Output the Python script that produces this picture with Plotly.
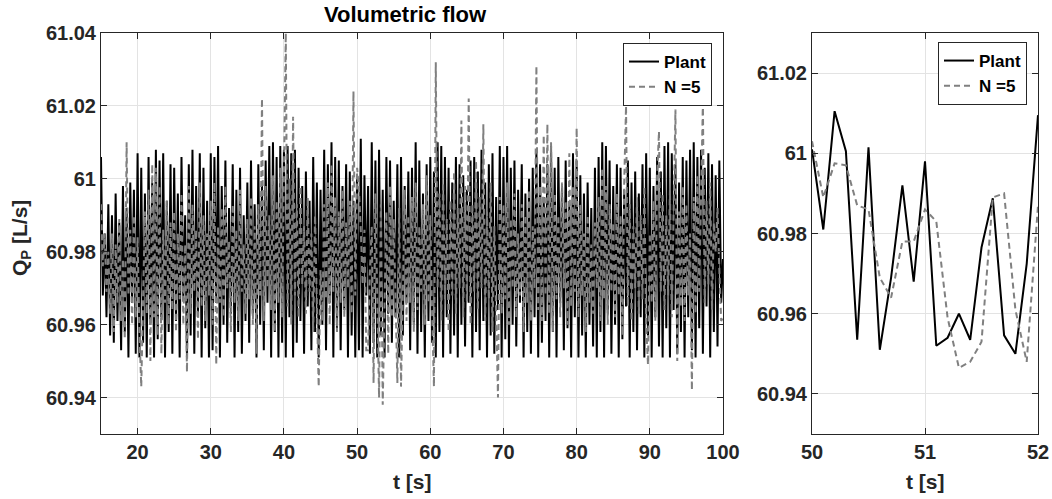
import plotly.graph_objects as go

# ---------------- data ----------------
# Overview panel: sampled every 0.25 s from t = 15 s to t = 100 s
overview_t0 = 15.0
overview_dt = 0.25

plant = [
    61.006, 60.968, 60.985, 60.962, 60.993, 60.957, 60.990, 60.955, 60.996, 60.961, 60.988, 60.953, 60.998, 60.958, 60.992, 60.951, 60.999, 60.966, 60.997, 60.952,
    61.007, 60.951, 61.003, 60.955, 60.996, 60.951, 61.006, 60.960, 60.999, 60.951, 61.008, 60.956, 61.005, 60.962, 61.007, 60.951, 60.994, 60.958, 61.004, 60.952,
    61.003, 60.961, 60.996, 60.951, 61.006, 60.967, 60.990, 60.951, 61.004, 60.957, 61.008, 60.952, 60.998, 60.962, 61.007, 60.951, 61.003, 60.959, 60.994, 60.951,
    61.007, 60.953, 61.006, 60.966, 61.009, 60.951, 60.998, 60.960, 61.005, 60.955, 60.992, 60.963, 61.004, 60.951, 60.997, 60.958, 61.003, 60.952, 60.990, 60.961,
    60.999, 60.955, 61.005, 60.963, 60.993, 60.951, 61.004, 60.960, 60.998, 60.953, 61.005, 60.966, 61.009, 60.951, 61.010, 60.958, 61.006, 60.951, 61.009, 60.955,
    61.008, 60.951, 61.009, 60.962, 61.007, 60.951, 61.008, 60.955, 61.003, 60.961, 60.998, 60.952, 61.002, 60.965, 60.994, 60.953, 61.006, 60.958, 60.999, 60.951,
    60.997, 60.960, 61.008, 60.953, 61.004, 60.966, 61.010, 60.951, 61.006, 60.959, 61.005, 60.953, 60.998, 60.964, 61.004, 60.951, 61.002, 60.957, 60.994, 60.951,
    61.001, 60.953, 61.011, 60.951, 61.001, 60.968, 60.998, 60.952, 61.010, 60.955, 61.005, 60.951, 61.008, 60.957, 60.997, 60.951, 61.006, 60.963, 61.005, 60.955,
    60.994, 60.962, 61.004, 60.951, 61.006, 60.957, 60.998, 60.966, 61.002, 60.953, 61.003, 60.960, 61.010, 60.952, 61.005, 60.958, 60.996, 60.951, 61.004, 60.961,
    61.006, 60.955, 61.002, 60.951, 61.010, 60.958, 61.009, 60.951, 61.006, 60.962, 61.003, 60.952, 60.999, 60.957, 61.006, 60.951, 61.004, 60.960, 61.001, 60.954,
    60.997, 60.966, 61.005, 60.951, 61.006, 60.958, 61.002, 60.953, 61.008, 60.961, 60.999, 60.951, 61.004, 60.957, 61.007, 60.952, 60.995, 60.964, 61.009, 60.951,
    61.006, 60.956, 61.009, 60.951, 61.003, 60.960, 61.005, 60.954, 60.997, 60.966, 61.004, 60.951, 60.996, 60.958, 61.000, 60.952, 61.003, 60.962, 61.008, 60.951,
    61.004, 60.955, 60.995, 60.961, 61.004, 60.951, 61.009, 60.958, 61.003, 60.951, 61.006, 60.966, 60.998, 60.953, 61.005, 60.959, 60.993, 60.951, 61.007, 60.962,
    61.005, 60.951, 61.001, 60.957, 60.996, 60.951, 60.999, 60.960, 60.992, 60.954, 61.003, 60.951, 61.006, 60.958, 61.010, 60.951, 61.009, 60.963, 61.005, 60.952,
    60.998, 60.960, 61.004, 60.951, 61.003, 60.956, 60.997, 60.965, 61.005, 60.951, 60.999, 60.958, 61.002, 60.953, 60.996, 60.962, 61.004, 60.951, 61.007, 60.957,
    61.003, 60.951, 60.998, 60.962, 61.006, 60.954, 61.002, 60.951, 61.009, 60.959, 61.010, 60.951, 61.007, 60.964, 61.004, 60.952, 60.999, 60.958, 61.006, 60.951,
    61.005, 60.962, 61.008, 60.953, 61.010, 60.951, 61.006, 60.959, 61.008, 60.952, 61.003, 60.965, 61.007, 60.951, 61.004, 60.958, 61.001, 60.954, 61.005, 60.966,
    60.978,
]

n5 = [
    60.993, 60.976, 60.985, 60.969, 60.980, 60.963, 60.985, 60.958, 60.982, 60.966, 60.989, 60.961, 60.978, 60.956, 61.010, 60.968, 60.986, 60.960, 60.990, 60.962,
    60.984, 60.958, 60.943, 60.965, 60.991, 60.963, 60.997, 60.950, 61.004, 60.962, 61.003, 60.957, 60.998, 60.952, 60.986, 60.966, 60.994, 60.960, 60.988, 60.964,
    60.991, 60.958, 60.985, 60.967, 60.996, 60.960, 60.982, 60.947, 60.998, 60.963, 60.993, 60.969, 60.986, 60.956, 60.999, 60.965, 60.990, 60.961, 60.985, 60.968,
    60.994, 60.960, 60.999, 60.949, 60.987, 60.966, 60.992, 60.962, 60.998, 60.970, 60.983, 60.958, 60.993, 60.966, 60.986, 60.961, 60.997, 60.969, 60.982, 60.963,
    60.989, 60.967, 60.995, 60.960, 60.987, 60.952, 60.993, 60.968, 61.022, 60.961, 60.998, 60.970, 60.990, 60.964, 61.001, 60.958, 60.994, 60.966, 61.003, 60.962,
    60.996, 61.040, 60.965, 61.000, 60.960, 61.017, 60.968, 60.993, 60.962, 60.998, 60.971, 60.987, 60.963, 60.995, 60.969, 60.985, 60.958, 60.990, 60.965, 60.943,
    60.975, 60.961, 60.993, 60.967, 60.999, 60.960, 61.004, 60.969, 60.995, 60.958, 60.991, 60.966, 60.997, 60.962, 60.988, 60.970, 60.994, 60.963, 61.024, 60.968,
    61.003, 60.997, 60.986, 60.971, 60.986, 60.953, 60.953, 60.975, 60.987, 60.944, 60.996, 60.962, 60.940, 60.993, 60.938, 60.966, 60.991, 60.952, 60.998, 60.962,
    60.989, 60.967, 60.944, 60.992, 60.943, 60.969, 60.997, 60.961, 60.990, 60.966, 60.995, 60.958, 60.999, 60.964, 60.987, 60.969, 60.993, 60.960, 61.001, 60.966,
    60.990, 60.963, 60.943, 61.032, 60.970, 60.996, 60.961, 60.999, 60.967, 60.989, 60.958, 60.994, 60.968, 61.002, 60.963, 60.992, 60.970, 61.016, 60.962, 60.998,
    60.966, 61.022, 60.960, 60.993, 60.969, 61.005, 60.964, 60.995, 60.970, 61.015, 60.961, 60.991, 60.967, 60.999, 60.958, 60.987, 60.966, 60.940, 60.995, 60.963,
    60.993, 60.967, 60.999, 60.960, 60.989, 60.970, 60.996, 60.962, 60.985, 60.968, 60.993, 60.958, 60.990, 60.966, 60.997, 60.961, 60.987, 60.970, 61.031, 60.964,
    60.998, 60.961, 61.012, 60.968, 61.015, 60.963, 61.010, 60.958, 60.996, 60.967, 60.990, 60.962, 60.999, 60.970, 60.994, 60.960, 61.007, 60.965, 60.998, 60.969,
    61.014, 60.962, 60.993, 60.968, 60.985, 60.958, 60.990, 60.966, 60.982, 60.963, 60.988, 60.970, 60.995, 60.961, 61.003, 60.967, 60.998, 60.960, 60.993, 60.969,
    60.988, 60.962, 60.996, 60.968, 60.990, 60.957, 60.999, 61.020, 60.965, 60.993, 60.961, 60.987, 60.970, 60.995, 60.963, 60.990, 60.967, 60.998, 60.960, 60.949,
    60.985, 60.966, 60.994, 60.961, 61.001, 61.013, 60.969, 60.996, 60.964, 60.990, 60.968, 60.997, 60.962, 60.993, 61.019, 60.950, 60.991, 60.965, 60.998, 60.961,
    60.993, 60.968, 60.985, 60.942, 60.995, 60.963, 61.001, 60.969, 60.997, 61.021, 60.966, 60.994, 60.971, 60.999, 60.964, 60.988, 60.980, 60.992, 60.975, 60.961,
    60.962,
]

# Zoomed panel: 50 s .. 52 s every 0.1 s
zoom_t = [50.0, 50.1, 50.2, 50.3, 50.4, 50.5, 50.6, 50.7, 50.8, 50.9, 51.0,
          51.1, 51.2, 51.3, 51.4, 51.5, 51.6, 51.7, 51.8, 51.9, 52.0]
zoom_plant = [61.001, 60.981, 61.0105, 61.0005, 60.9535, 61.0015, 60.951, 60.969, 60.992, 60.968, 60.998,
              60.952, 60.954, 60.960, 60.9535, 60.9765, 60.9888, 60.9546, 60.950, 60.9724, 61.0095]
zoom_n5 = [61.003, 60.989, 60.9975, 60.997, 60.987, 60.986, 60.969, 60.964, 60.978, 60.978, 60.986,
           60.983, 60.959, 60.9465, 60.948, 60.953, 60.989, 60.990, 60.961, 60.948, 60.987]

left_xticks = [20, 30, 40, 50, 60, 70, 80, 90, 100]
left_yticks = [60.94, 60.96, 60.98, 61.0, 61.02, 61.04]
left_ytext = ["60.94", "60.96", "60.98", "61", "61.02", "61.04"]
right_xticks = [50, 51, 52]
right_yticks = [60.94, 60.96, 60.98, 61.0, 61.02]
right_ytext = ["60.94", "60.96", "60.98", "61", "61.02"]

t_plant = [overview_t0 + overview_dt * i for i in range(len(plant))]
t_n5 = [overview_t0 + overview_dt * i for i in range(len(n5))]

# ---------------- figure ----------------
W, H = 1052, 499


def px(x):
    return x / W


def py(y):
    return (H - y) / H


FONT = "Liberation Sans"
TXT = "#262626"

fig = go.Figure()
plant_line = dict(color="black", width=2)
n5_line = dict(color="#808080", width=2, dash="6px,4px")

fig.add_trace(go.Scatter(x=t_plant, y=plant, mode="lines", name="Plant", line=plant_line,
                         xaxis="x", yaxis="y", legend="legend"))
fig.add_trace(go.Scatter(x=t_n5, y=n5, mode="lines", name="N =5", line=n5_line,
                         xaxis="x", yaxis="y", legend="legend"))
fig.add_trace(go.Scatter(x=zoom_t, y=zoom_plant, mode="lines", name="Plant", line=plant_line,
                         xaxis="x2", yaxis="y2", legend="legend2"))
fig.add_trace(go.Scatter(x=zoom_t, y=zoom_n5, mode="lines", name="N =5", line=n5_line,
                         xaxis="x2", yaxis="y2", legend="legend2"))

tickfont = dict(family=FONT, size=20, color=TXT, weight="bold")
common = dict(showline=True, linecolor=TXT, linewidth=1, mirror="ticks", ticks="inside",
              ticklen=6, tickcolor=TXT, showgrid=True, gridcolor="#e3e3e3", gridwidth=1,
              zeroline=False, tickfont=tickfont, automargin=False)

ydom = [py(434), py(33)]
legfont = dict(family=FONT, size=17, color="black", weight="bold")
lblfont = dict(family=FONT, size=21, color=TXT, weight="bold")

fig.update_layout(
    width=W, height=H,
    margin=dict(l=0, r=0, t=0, b=0, autoexpand=False),
    paper_bgcolor="white", plot_bgcolor="white",
    showlegend=True,
    xaxis=dict(domain=[px(101), px(723)], range=[15, 100], tickvals=left_xticks,
               anchor="y", **common),
    yaxis=dict(domain=ydom, range=[60.93, 61.04], tickvals=left_yticks, ticktext=left_ytext,
               anchor="x", **common),
    xaxis2=dict(domain=[px(812), px(1038)], range=[50, 52], tickvals=right_xticks,
                anchor="y2", **common),
    yaxis2=dict(domain=ydom, range=[60.93, 61.03], tickvals=right_yticks, ticktext=right_ytext,
                anchor="x2", **common),
    legend=dict(x=px(712), y=py(43), xanchor="right", yanchor="top",
                bgcolor="white", bordercolor=TXT, borderwidth=1, itemwidth=30,
                font=legfont, tracegroupgap=0),
    legend2=dict(x=px(1027), y=py(42), xanchor="right", yanchor="top",
                 bgcolor="white", bordercolor=TXT, borderwidth=1, itemwidth=30,
                 font=legfont, tracegroupgap=0),
    annotations=[
        dict(text="Volumetric flow", x=px(405), y=py(14), xref="paper", yref="paper",
             xanchor="center", yanchor="middle", showarrow=False,
             font=dict(family=FONT, size=22, color="black", weight="bold")),
        dict(text="t [s]", x=px(412), y=py(481), xref="paper", yref="paper",
             xanchor="center", yanchor="middle", showarrow=False, font=lblfont),
        dict(text="t [s]", x=px(925), y=py(481), xref="paper", yref="paper",
             xanchor="center", yanchor="middle", showarrow=False, font=lblfont),
        dict(text="Q<sub>P</sub> [L/s]", x=px(21), y=py(238), xref="paper", yref="paper",
             xanchor="center", yanchor="middle", showarrow=False, textangle=-90,
             font=lblfont),
    ],
)

fig.write_html("out.html", config={"displayModeBar": False},
               post_script="document.body.style.margin='0px';")
